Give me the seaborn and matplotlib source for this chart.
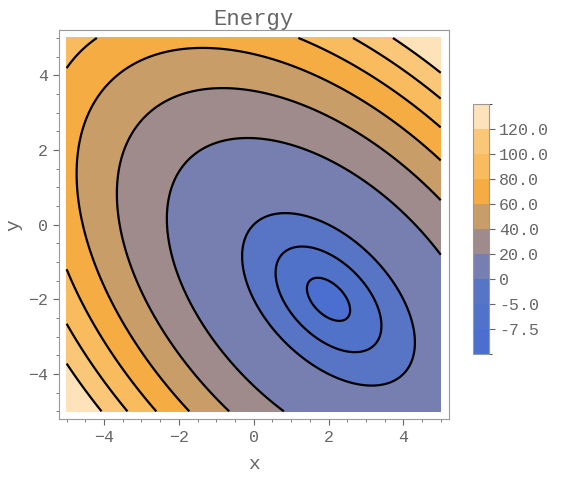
import numpy as np
import matplotlib
matplotlib.use('Agg')
import matplotlib.pyplot as plt
from matplotlib.colors import ListedColormap, BoundaryNorm
import seaborn as sns

# energy surface: E = k*(u^2 + u*v + v^2) + e_min, u = x - x0, v = y - y0
x0, y0 = 2.0, -2.0
k_curv = 2.0
e_min = -8.0

levels = [-8.0, -7.5, -5.0, 0.0, 20.0, 40.0, 60.0, 80.0, 100.0, 120.0, 150.0]
line_levels = levels[1:-1]
tick_labels = ['-7.5', '-5.0', '0', '20.0', '40.0', '60.0', '80.0', '100.0', '120.0']
band_colors = ['#4a6fd0', '#5072c8', '#5874c4', '#777fb0', '#9f8b8b',
               '#c99d68', '#f5ac43', '#f8bb5e', '#fac778', '#fde2ba']

sns.set_style('ticks')
plt.rcParams['font.family'] = ['Liberation Mono', 'DejaVu Sans Mono']
grey = '#666666'

xs = np.linspace(-5, 5, 401)
X, Y = np.meshgrid(xs, xs)
U, V = X - x0, Y - y0
E = k_curv * (U ** 2 + U * V + V ** 2) + e_min

fig = plt.figure(figsize=(5.65, 4.78), dpi=100)
ax = fig.add_axes([0.104, 0.123, 0.69, 0.814])
cmap = ListedColormap(band_colors)
norm = BoundaryNorm(levels, cmap.N)
cf = ax.contourf(X, Y, E, levels=levels, cmap=cmap, norm=norm)
ax.contour(X, Y, E, levels=line_levels, colors='black', linewidths=1.6,
           linestyles='solid')
ax.set_xlim(-5.21, 5.21)
ax.set_ylim(-5.21, 5.21)
ax.set_xticks([-4, -2, 0, 2, 4])
ax.set_yticks([-4, -2, 0, 2, 4])
ax.set_xticks(np.arange(-5, 5.01, 0.5), minor=True)
ax.set_yticks(np.arange(-5, 5.01, 0.5), minor=True)
ax.tick_params(colors=grey, labelsize=12, direction='out', length=4)
ax.tick_params(which='minor', direction='out', length=2, colors=grey)
for s in ax.spines.values():
    s.set_color('#999999')
ax.set_xlabel('x', color=grey, fontsize=14, labelpad=8)
ax.set_ylabel('y', color=grey, fontsize=14)
ax.set_title('Energy', color=grey, fontsize=16, pad=3)

cax = fig.add_axes([0.837, 0.259, 0.028, 0.523])
cb = fig.colorbar(cf, cax=cax, spacing='uniform')
cb.set_ticks(line_levels)
cb.set_ticklabels(tick_labels)
cb.ax.tick_params(colors=grey, labelsize=12, length=4)
cb.outline.set_edgecolor('#999999')

fig.savefig('out.png', dpi=100)
